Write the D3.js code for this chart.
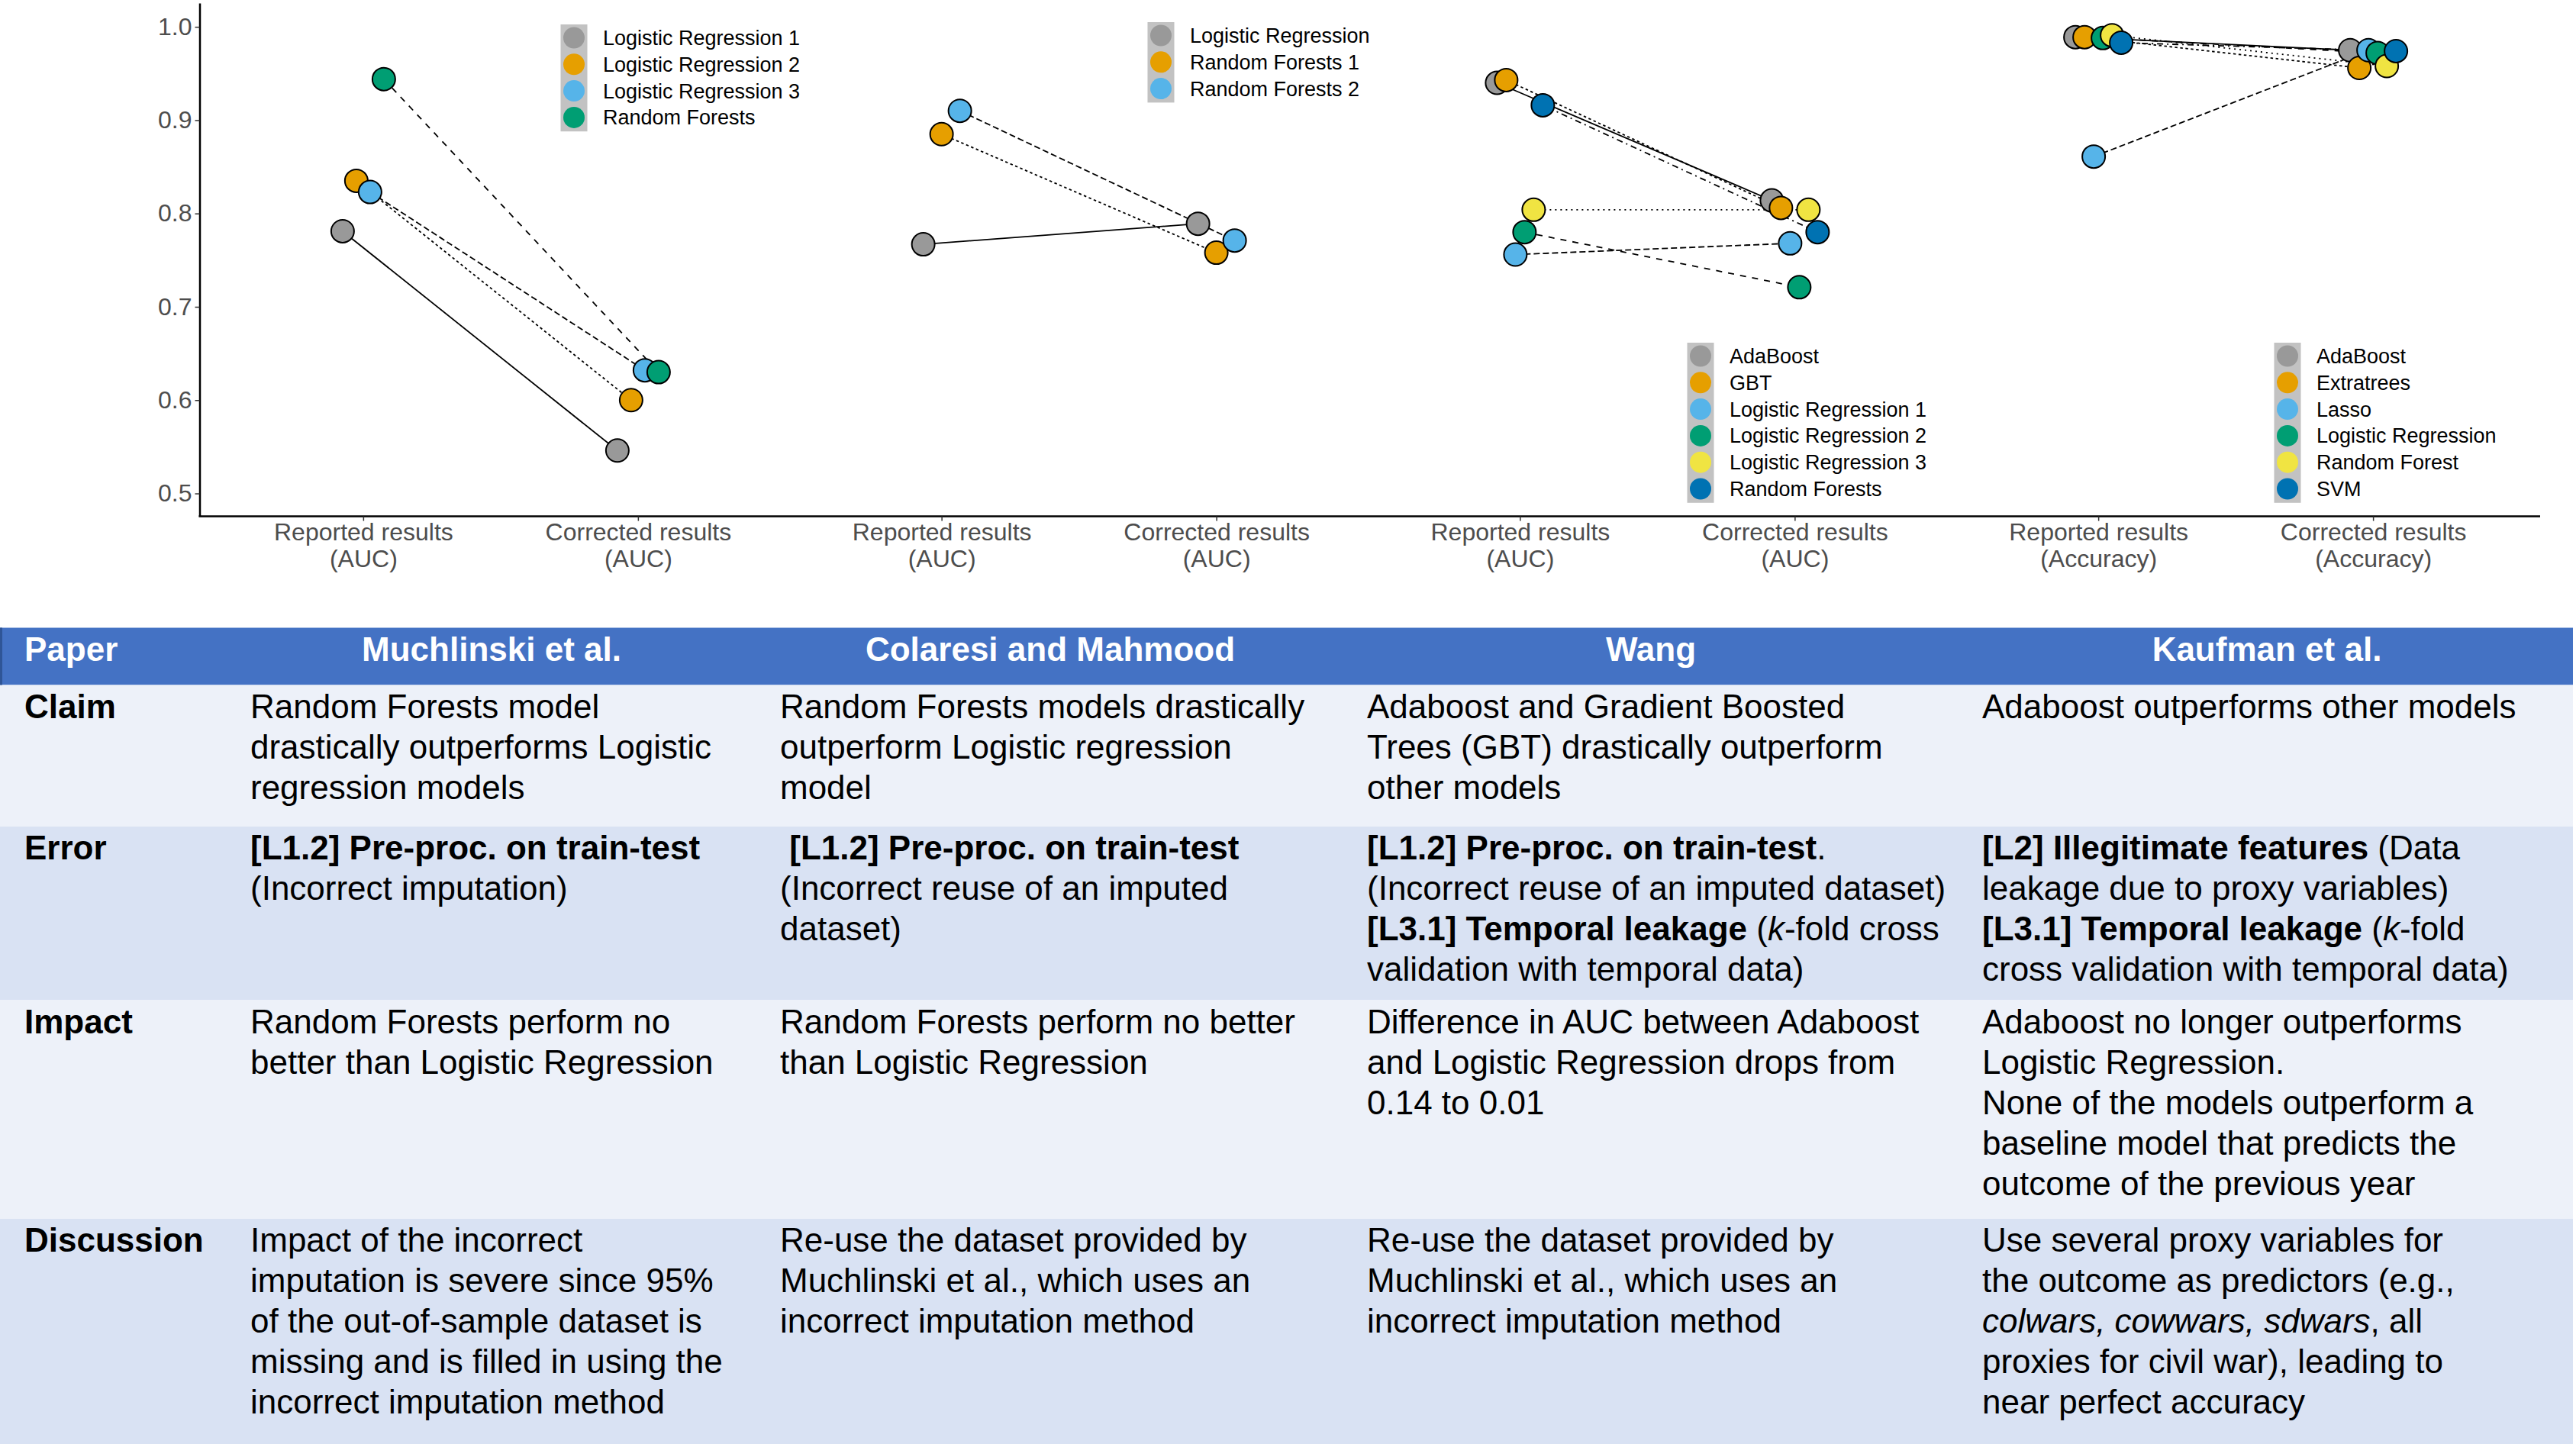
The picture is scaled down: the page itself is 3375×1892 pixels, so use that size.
<!DOCTYPE html>
<html>
<head>
<meta charset="utf-8">
<script src="https://cdn.jsdelivr.net/npm/d3@7"></script>
<style>
  body { margin: 0; background: #fff; }
  svg { display: block; font-family: "Liberation Sans", Arial, sans-serif; }
</style>
</head>
<body>
<svg id="fig" width="3375" height="1892"></svg>
<script>
// ---- chart data ----
const groups = ["Muchlinski", "Colaresi", "Wang", "Kaufman"]
const categories = ["Reported results", "Corrected results"]
const metrics = ["(AUC)", "(AUC)", "(AUC)", "(Accuracy)"]
const yTicks = [0.5, 0.6, 0.7, 0.8, 0.9, 1.0]

const muchlinskiModels = ["Logistic Regression 1", "Logistic Regression 2", "Logistic Regression 3", "Random Forests"]
const muchlinskiReported = [0.781, 0.835, 0.823, 0.944]
const muchlinskiCorrected = [0.546, 0.600, 0.632, 0.630]

const colaresiModels = ["Logistic Regression", "Random Forests 1", "Random Forests 2"]
const colaresiReported = [0.767, 0.885, 0.910]
const colaresiCorrected = [0.789, 0.758, 0.771]

const wangModels = ["AdaBoost", "GBT", "Logistic Regression 1", "Logistic Regression 2", "Logistic Regression 3", "Random Forests"]
const wangReported = [0.940, 0.943, 0.756, 0.780, 0.804, 0.916]
const wangCorrected = [0.814, 0.806, 0.768, 0.721, 0.804, 0.780]

const kaufmanModels = ["AdaBoost", "Extratrees", "Lasso", "Logistic Regression", "Random Forest", "SVM"]
const kaufmanReported = [0.989, 0.989, 0.861, 0.988, 0.991, 0.983]
const kaufmanCorrected = [0.975, 0.956, 0.975, 0.972, 0.958, 0.974]

// ---- table text ----
const tableHeader = ["Paper", "Muchlinski et al.", "Colaresi and Mahmood", "Wang", "Kaufman et al."]
const rowLabels = ["Claim", "Error", "Impact", "Discussion"]
// each cell = list of lines, each line = list of [text, style]  (b = bold, i = italic)
const tableCells = [
  [
    [[["Random Forests model"]], [["drastically outperforms Logistic"]], [["regression models"]]],
    [[["Random Forests models drastically"]], [["outperform Logistic regression"]], [["model"]]],
    [[["Adaboost and Gradient Boosted"]], [["Trees (GBT) drastically outperform"]], [["other models"]]],
    [[["Adaboost outperforms other models"]]]
  ],
  [
    [[["[L1.2] Pre-proc. on train-test", "b"]], [["(Incorrect imputation)"]]],
    [[[" [L1.2] Pre-proc. on train-test", "b"]], [["(Incorrect reuse of an imputed"]], [["dataset)"]]],
    [[["[L1.2] Pre-proc. on train-test", "b"], ["."]], [["(Incorrect reuse of an imputed dataset)"]],
     [["[L3.1] Temporal leakage", "b"], [" ("], ["k", "i"], ["-fold cross"]], [["validation with temporal data)"]]],
    [[["[L2] Illegitimate features", "b"], [" (Data"]], [["leakage due to proxy variables)"]],
     [["[L3.1] Temporal leakage", "b"], [" ("], ["k", "i"], ["-fold"]], [["cross validation with temporal data)"]]]
  ],
  [
    [[["Random Forests perform no"]], [["better than Logistic Regression"]]],
    [[["Random Forests perform no better"]], [["than Logistic Regression"]]],
    [[["Difference in AUC between Adaboost"]], [["and Logistic Regression drops from"]], [["0.14 to 0.01"]]],
    [[["Adaboost no longer outperforms"]], [["Logistic Regression."]], [["None of the models outperform a"]],
     [["baseline model that predicts the"]], [["outcome of the previous year"]]]
  ],
  [
    [[["Impact of the incorrect"]], [["imputation is severe since 95%"]], [["of the out-of-sample dataset is"]],
     [["missing and is filled in using the"]], [["incorrect imputation method"]]],
    [[["Re-use the dataset provided by"]], [["Muchlinski et al., which uses an"]], [["incorrect imputation method"]]],
    [[["Re-use the dataset provided by"]], [["Muchlinski et al., which uses an"]], [["incorrect imputation method"]]],
    [[["Use several proxy variables for"]], [["the outcome as predictors (e.g.,"]],
     [["colwars, cowwars, sdwars", "i"], [", all"]], [["proxies for civil war), leading to"]], [["near perfect accuracy"]]]
  ]
]

const panels = [
  {models: muchlinskiModels, rep: muchlinskiReported, cor: muchlinskiCorrected, legend: [752, 32]},
  {models: colaresiModels, rep: colaresiReported, cor: colaresiCorrected, legend: [1521, 29]},
  {models: wangModels, rep: wangReported, cor: wangCorrected, legend: [2228, 449]},
  {models: kaufmanModels, rep: kaufmanReported, cor: kaufmanCorrected, legend: [2997, 449]}
]

const palette = ["#999999", "#E69F00", "#56B4E9", "#009E73", "#F0E442", "#0072B2"]
const dashes = [null, "3.5,3.5", "8,4", "8,8", "2,5", "2,5,8,5"]
const axisGrey = "#4d4d4d"

const svg = d3.select("#fig")

// ---- chart ----
const axisX = 261.5, plotBottom = 676.5, plotTop = 4, plotRight = 3328

const y = d3.scaleLinear().domain([0.4755, 1.0255]).range([plotBottom, plotTop])
const groupX = d3.scaleBand().domain(groups).range([277, 3308])
const inner = d3.scalePoint().domain(categories).range([-180, 180])

const chart = svg.append("g")

//Y axis
const yAxis = chart.append("g").attr("transform", "translate(" + axisX + ",0)")
  .call(d3.axisLeft(y).tickValues(yTicks).tickFormat(d3.format(".1f")).tickSize(6).tickSizeOuter(0).tickPadding(4))
yAxis.select(".domain").attr("stroke", "#000").attr("stroke-width", 2.5)
yAxis.selectAll(".tick line").attr("stroke", "#333").attr("stroke-width", 1.5)
yAxis.selectAll(".tick text").attr("font-size", 32).attr("fill", axisGrey).attr("font-family", "Liberation Sans, Arial, sans-serif")

//X axis line
chart.append("line").attr("x1", axisX - 1).attr("x2", plotRight)
  .attr("y1", plotBottom).attr("y2", plotBottom).attr("stroke", "#000").attr("stroke-width", 2.5)

panels.forEach((p, gi) => {
  const g = groups[gi]
  const center = groupX(g) + groupX.bandwidth() / 2
  const xs = d3.scalePoint().domain(categories).range([center - 180, center + 180])
  const dodge = d3.scaleBand().domain(p.models).range([-36, 36])
  const px = (cat, m) => center + inner(cat) + dodge(m) + dodge.bandwidth() / 2

  // axis ticks + labels for the two categories
  const ax = chart.append("g").attr("transform", "translate(0," + plotBottom + ")")
    .call(d3.axisBottom(xs).tickSize(6).tickSizeOuter(0))
  ax.select(".domain").remove()
  ax.selectAll(".tick line").attr("stroke", "#333").attr("stroke-width", 1.5)
  ax.selectAll(".tick text").each(function(d){
    const t = d3.select(this).text(null).attr("dy", null).attr("y", 0)
      .attr("font-size", 32).attr("fill", axisGrey).attr("font-family", "Liberation Sans, Arial, sans-serif")
    t.append("tspan").attr("x", 0).attr("y", 31).text(d)
    t.append("tspan").attr("x", 0).attr("y", 66).text(metrics[gi])
  })

  const rows = p.models.map((m, i) => ({m: m, i: i, rep: p.rep[i], cor: p.cor[i]}))

  // connecting lines
  chart.selectAll(null).data(rows).enter().append("line")
    .attr("x1", d => px(categories[0], d.m))
    .attr("y1", d => y(d.rep))
    .attr("x2", d => px(categories[1], d.m))
    .attr("y2", d => y(d.cor))
    .attr("stroke", "#000")
    .attr("stroke-width", 1.8)
    .attr("stroke-dasharray", d => dashes[d.i])

  // points
  rows.forEach(d => {
    [[categories[0], d.rep], [categories[1], d.cor]].forEach(c => {
      chart.append("circle")
        .attr("cx", px(c[0], d.m))
        .attr("cy", y(c[1]))
        .attr("r", 15)
        .attr("fill", palette[d.i])
        .attr("stroke", "#000")
        .attr("stroke-width", 2)
    })
  })

  // legend
  const lg = chart.append("g").attr("transform", "translate(" + p.legend[0] + "," + p.legend[1] + ")")
  const rowH = 34.8
  lg.append("rect").attr("x", -17.5).attr("y", 0).attr("width", 35)
    .attr("height", rowH * p.models.length + 1).attr("fill", "#c2c2c2")
  p.models.forEach((m, i) => {
    lg.append("circle").attr("cx", 0).attr("cy", 17.5 + i * rowH).attr("r", 14).attr("fill", palette[i])
    lg.append("text").attr("x", 38).attr("y", 17.5 + i * rowH + 9.5)
      .attr("font-size", 27).attr("fill", "#000").text(m)
  })
})

// ---- table ----
const rowTops = [822.5, 897.5, 1083, 1310.5, 1597, 1892]
const rowFills = ["#4472C4", "#EDF1F9", "#D9E2F3", "#EDF1F9", "#D9E2F3"]
const colText = [32, 328, 1022, 1791, 2597]
const headCenters = [null, 644, 1376, 2163, 2970]
const tableRight = 3371
const lineH = 53

const table = svg.append("g")
rowFills.forEach((f, i) => {
  table.append("rect").attr("x", 0).attr("y", rowTops[i]).attr("width", tableRight)
    .attr("height", rowTops[i + 1] - rowTops[i]).attr("fill", f)
})
table.append("rect").attr("x", 0).attr("y", rowTops[0]).attr("width", 3)
  .attr("height", rowTops[1] - rowTops[0]).attr("fill", "#2F5597")

tableHeader.forEach((h, i) => {
  table.append("text")
    .attr("x", i === 0 ? colText[0] : headCenters[i])
    .attr("y", 866)
    .attr("text-anchor", i === 0 ? "start" : "middle")
    .attr("font-size", 44).attr("font-weight", "bold").attr("fill", "#fff")
    .text(h)
})

rowLabels.forEach((lab, r) => {
  const base = rowTops[r + 1] + 43
  table.append("text").attr("x", colText[0]).attr("y", base)
    .attr("font-size", 44).attr("font-weight", "bold").attr("fill", "#000").text(lab)
  tableCells[r].forEach((cell, c) => {
    cell.forEach((line, li) => {
      const t = table.append("text").attr("x", colText[c + 1]).attr("y", base + li * lineH)
        .attr("font-size", 44).attr("fill", "#000").style("white-space", "pre")
      line.forEach(seg => {
        t.append("tspan")
          .attr("font-weight", seg[1] === "b" ? "bold" : null)
          .attr("font-style", seg[1] === "i" ? "italic" : null)
          .text(seg[0])
      })
    })
  })
})
</script>
</body>
</html>
